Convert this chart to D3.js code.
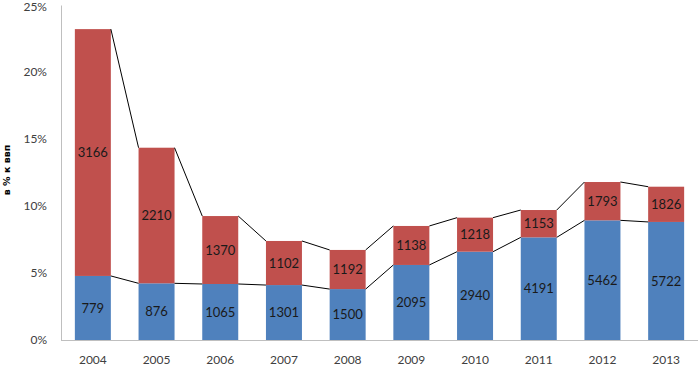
<!DOCTYPE html>
<html><head><meta charset="utf-8">
<script src="https://cdn.jsdelivr.net/npm/d3@7"></script>
<style>body{margin:0;background:#fff}</style>
</head><body>
<svg id="c" width="699" height="366"></svg>
<script>
const years = ["2004","2005","2006","2007","2008","2009","2010","2011","2012","2013"];
const bluePct = [4.78, 4.23, 4.18, 4.10, 3.80, 5.60, 6.59, 7.66, 8.93, 8.81];
const redPct  = [18.42, 10.12, 5.07, 3.29, 2.92, 2.91, 2.54, 2.04, 2.86, 2.63];
const blueLabels = ["779","876","1065","1301","1500","2095","2940","4191","5462","5722"];
const redLabels  = ["3166","2210","1370","1102","1192","1138","1218","1153","1793","1826"];
const yTicks = [0,5,10,15,20,25];

const svg = d3.select("#c");
const font = "Lato, 'Open Sans', sans-serif";
const x = d3.scaleBand().domain(years).range([61, 698]).paddingInner(0.435).paddingOuter(0.2175);
const y = d3.scaleLinear().domain([0,25]).range([340, 5]);

const data = years.map((yr,i)=>({yr, b:bluePct[i], r:redPct[i], bl:blueLabels[i], rl:redLabels[i]}));

// axes
const ya = svg.append("g").attr("transform","translate(61,0)")
  .call(d3.axisLeft(y).tickValues(yTicks).tickSize(0).tickPadding(14).tickFormat(d=>d+"%"));
ya.select(".domain").attr("stroke","#bfbfbf");
ya.selectAll("text").attr("font-family",font).attr("font-size",12).attr("fill","#404040");
ya.selectAll(".tick").filter(d=>d===25).select("text").attr("dy","0.42em");

const xa = svg.append("g").attr("transform","translate(0,340)")
  .call(d3.axisBottom(x).tickSize(0).tickPadding(15));
xa.select(".domain").attr("stroke","#bfbfbf").attr("d","M61,0.5H698");
xa.selectAll("text").attr("font-family",font).attr("font-size",12).attr("fill","#404040");

svg.append("text").attr("transform","translate(10,170) rotate(-90)")
  .attr("text-anchor","middle").attr("font-family","'DejaVu Sans', sans-serif")
  .attr("font-size",9.5).attr("font-weight","bold").attr("fill","#000").text("в % к ввп");

// bars
const g = svg.append("g");
g.selectAll(".b").data(data).join("rect")
  .attr("x",d=>x(d.yr)).attr("width",x.bandwidth())
  .attr("y",d=>y(d.b)).attr("height",d=>y(0)-y(d.b)).attr("fill","#4f81bd");
g.selectAll(".r").data(data).join("rect")
  .attr("x",d=>x(d.yr)).attr("width",x.bandwidth())
  .attr("y",d=>y(d.b+d.r)).attr("height",d=>y(d.b)-y(d.b+d.r)).attr("fill","#c0504d");

// series lines
const lines = svg.append("g").attr("stroke","#000").attr("stroke-width",1).attr("fill","none");
for (let i=0;i<data.length-1;i++){
  const a=data[i], c=data[i+1];
  lines.append("line").attr("x1",x(a.yr)+x.bandwidth()).attr("x2",x(c.yr))
    .attr("y1",y(a.b)).attr("y2",y(c.b));
  lines.append("line").attr("x1",x(a.yr)+x.bandwidth()).attr("x2",x(c.yr))
    .attr("y1",y(a.b+a.r)).attr("y2",y(c.b+c.r));
}

// labels
const lab = svg.append("g").attr("font-family",font).attr("font-size",13).attr("fill","#1a1a1a").attr("text-anchor","middle");
lab.selectAll(".lb").data(data).join("text")
  .attr("x",d=>x(d.yr)+x.bandwidth()/2).attr("y",d=>(y(0)+y(d.b))/2).attr("dy","0.35em").text(d=>d.bl);
lab.selectAll(".lr").data(data).join("text")
  .attr("x",d=>x(d.yr)+x.bandwidth()/2).attr("y",d=>(y(d.b)+y(d.b+d.r))/2).attr("dy","0.35em").text(d=>d.rl);
</script>
</body></html>
